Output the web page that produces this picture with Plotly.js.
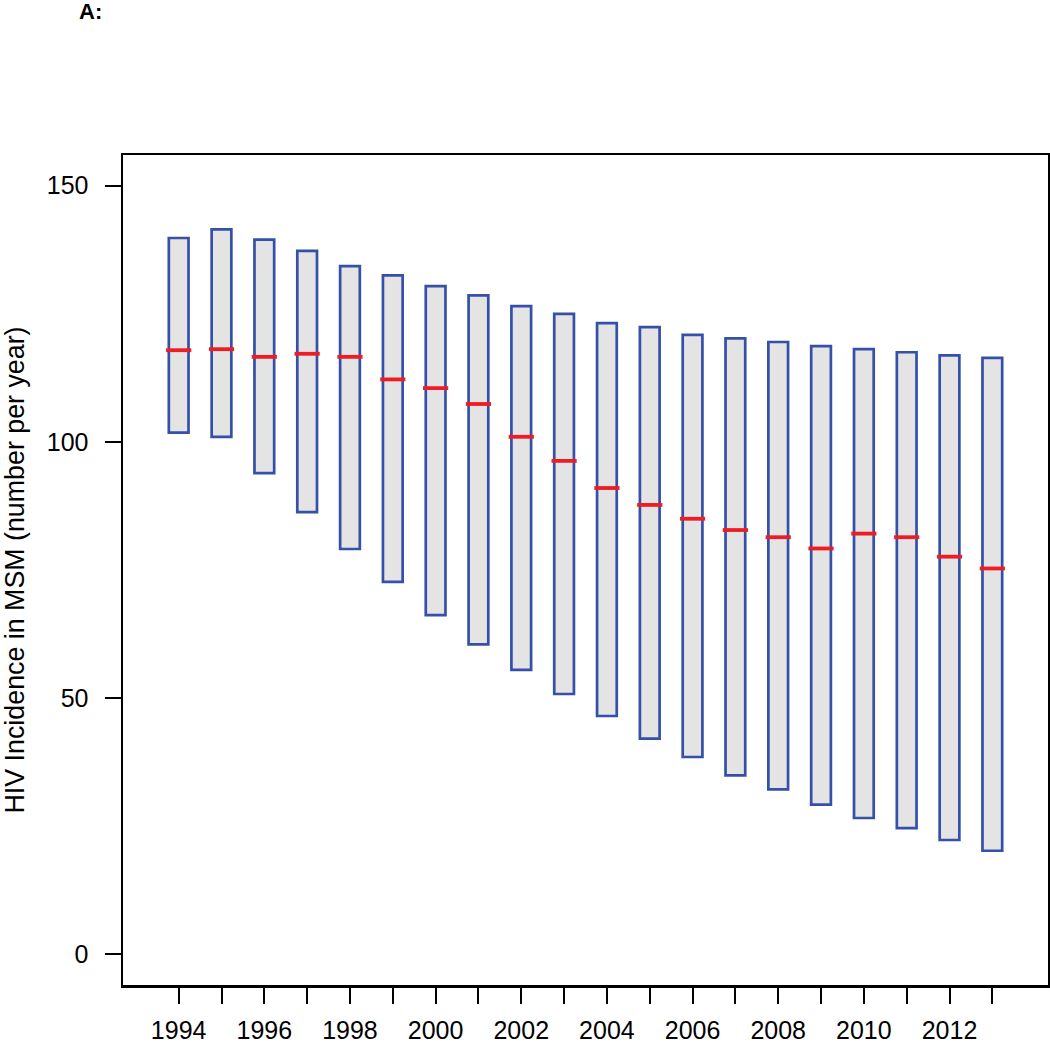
<!DOCTYPE html>
<html>
<head>
<meta charset="utf-8">
<script src="https://cdn.plot.ly/plotly-3.0.1.min.js"></script>
<style>html,body{margin:0;padding:0;background:#fff;}#chart{width:1050px;height:1043px;}</style>
</head>
<body>
<div id="chart"></div>
<script>
// Data
var years = [1994,1995,1996,1997,1998,1999,2000,2001,2002,2003,2004,2005,2006,2007,2008,2009,2010,2011,2012,2013];
var upper = [139.8,141.5,139.5,137.3,134.3,132.5,130.4,128.6,126.5,125.0,123.2,122.4,120.9,120.2,119.5,118.7,118.1,117.5,116.9,116.4];
var lower = [101.8,101.0,93.9,86.3,79.1,72.7,66.2,60.5,55.5,50.8,46.5,42.1,38.5,34.9,32.2,29.2,26.6,24.6,22.3,20.2];
var median = [117.9,118.1,116.6,117.2,116.6,112.2,110.5,107.4,101.0,96.3,91.0,87.7,85.0,82.8,81.4,79.2,82.1,81.4,77.6,75.3];
var tickYears = years;
var tickLabels = years.map(function(y){ return (y % 2 === 0) ? String(y) : ''; });
var yTicks = [0, 50, 100, 150];

var spans = upper.map(function(u, i){ return u - lower[i]; });

var boxes = {
  type: 'bar',
  x: years,
  y: spans,
  base: lower,
  width: 0.46,
  marker: { color: '#e4e4e4', line: { color: '#3450a8', width: 2.7 } },
  hoverinfo: 'skip',
  showlegend: false
};

var meds = {
  type: 'scatter',
  mode: 'markers',
  x: years,
  y: median,
  marker: { symbol: 'line-ew', size: 18, color: '#ee1c24', line: { color: '#ee1c24', width: 3.8 } },
  hoverinfo: 'skip',
  showlegend: false
};

var font = { family: 'Liberation Sans, Arial, sans-serif', color: '#000', size: 25 };
var titleFont = { family: 'Liberation Sans, Arial, sans-serif', color: '#000', size: 26.8 };

var layout = {
  width: 1050,
  height: 1043,
  margin: { l: 122.5, r: 2, t: 155, b: 58, pad: 0 },
  paper_bgcolor: '#fff',
  plot_bgcolor: '#fff',
  font: font,
  showlegend: false,
  title: {
    text: '<b>A:</b>',
    font: { family: 'Liberation Sans, Arial, sans-serif', size: 22, color: '#000' },
    xref: 'container', yref: 'container',
    x: 79 / 1050, xanchor: 'left',
    y: 1 - 11 / 1043, yanchor: 'middle'
  },
  xaxis: {
    range: [1992.7, 2014.3],
    tickmode: 'array',
    tickvals: tickYears,
    ticktext: tickLabels,
    ticks: 'outside',
    ticklen: 16,
    tickwidth: 2,
    tickcolor: '#000',
    showline: true,
    linecolor: '#000',
    linewidth: 2.5,
    mirror: true,
    showgrid: false,
    zeroline: false,
    tickfont: font,
    ticklabelstandoff: 5,
    automargin: false
  },
  yaxis: {
    range: [-6, 156],
    tickmode: 'array',
    tickvals: yTicks,
    ticktext: yTicks.map(String),
    ticks: 'outside',
    ticklen: 16,
    tickwidth: 2,
    tickcolor: '#000',
    showline: true,
    linecolor: '#000',
    linewidth: 2.5,
    mirror: true,
    showgrid: false,
    zeroline: false,
    tickfont: font,
    ticklabelstandoff: 11,
    title: { text: 'HIV Incidence in MSM (number per year)', font: titleFont, standoff: 26 },
    automargin: false
  }
};

Plotly.newPlot('chart', [boxes, meds], layout, { displayModeBar: false, staticPlot: true });
</script>
</body>
</html>
